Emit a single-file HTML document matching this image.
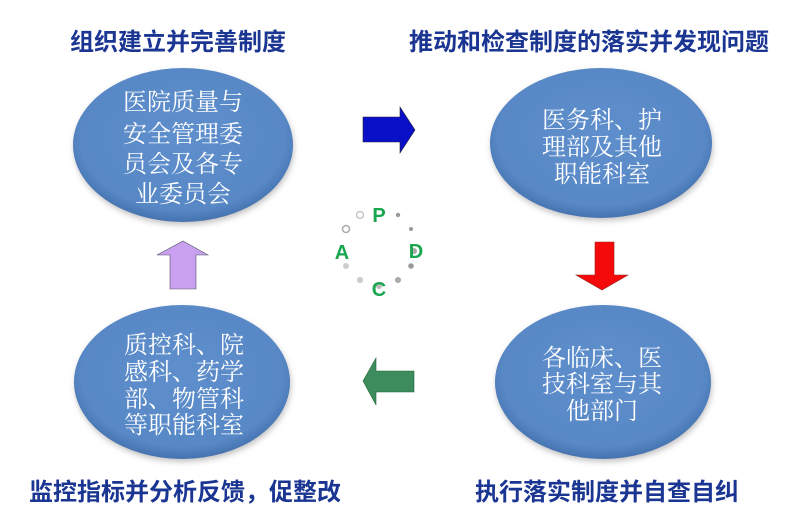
<!DOCTYPE html>
<html><head><meta charset="utf-8"><style>
html,body{margin:0;padding:0;background:#fff;}
svg{display:block}
.t{font-family:"Liberation Sans","Noto Sans CJK SC",sans-serif;font-weight:bold;fill:#1a3592;font-size:24px;}
.e{font-family:"Liberation Serif","Noto Serif CJK SC",serif;fill:#fff;font-size:24px;}
.l{font-family:"Liberation Sans",sans-serif;font-weight:bold;fill:#1aa550;font-size:20px;}
</style></head><body>
<svg width="800" height="532" viewBox="0 0 800 532" xmlns="http://www.w3.org/2000/svg">
<defs>
<radialGradient id="g" cx="50%" cy="45%" r="55%">
<stop offset="0" stop-color="#5e8fcc"/><stop offset="0.85" stop-color="#5888c6"/><stop offset="1" stop-color="#4573b0"/>
</radialGradient>
<filter id="s" x="-10%" y="-10%" width="120%" height="130%"><feDropShadow dx="1" dy="3" stdDeviation="3" flood-color="#888" flood-opacity="0.5"/></filter>
</defs>
<text class="t" x="178" y="50" text-anchor="middle">组织建立并完善制度</text>
<text class="t" x="589" y="50" text-anchor="middle">推动和检查制度的落实并发现问题</text>
<text class="t" x="185" y="500" text-anchor="middle">监控指标并分析反馈，促整改</text>
<text class="t" x="607" y="500" text-anchor="middle">执行落实制度并自查自纠</text>

<ellipse cx="183" cy="145" rx="110" ry="77" fill="url(#g)" filter="url(#s)"/>
<ellipse cx="601" cy="143" rx="111" ry="75" fill="url(#g)" filter="url(#s)"/>
<ellipse cx="182" cy="382" rx="108" ry="77" fill="url(#g)" filter="url(#s)"/>
<ellipse cx="603" cy="382" rx="108" ry="77" fill="url(#g)" filter="url(#s)"/>

<g class="e" text-anchor="middle">
<text x="183" y="110">医院质量与</text>
<text x="183" y="142">安全管理委</text>
<text x="183" y="172">员会及各专</text>
<text x="183" y="202">业委员会</text>
<text x="602" y="128">医务科、护</text>
<text x="602" y="155">理部及其他</text>
<text x="602" y="182">职能科室</text>
<text x="184" y="353">质控科、院</text>
<text x="184" y="380">感科、药学</text>
<text x="184" y="407">部、物管科</text>
<text x="184" y="433">等职能科室</text>
<text x="602" y="366">各临床、医</text>
<text x="602" y="392">技科室与其</text>
<text x="602" y="419">他部门</text>
</g>

<polygon points="363,117 400,117 400,107 415,130 400,153 400,142 363,142" fill="#0a10c8" stroke="#223" stroke-width="0.6"/>
<polygon points="595,242 614,242 614,275 628,275 602,290 576,275 595,275" fill="#f40a0a" stroke="#922" stroke-width="0.6"/>
<polygon points="414,371 376,371 376,358 363,381 376,405 376,392 414,392" fill="#3c8c5e" stroke="#263" stroke-width="0.6"/>
<polygon points="170,289 196,289 196,255 208,255 183,241 157,255 170,255" fill="#c9a0f0" stroke="#556" stroke-width="0.6"/>

<g fill="#bbb">
<circle cx="360" cy="215" r="3.5" fill="none" stroke="#bbb" stroke-width="1.2"/>
<circle cx="346" cy="229" r="3.5" fill="none" stroke="#aaa" stroke-width="1.5"/>
<circle cx="398" cy="215" r="2.2" fill="#999"/>
<circle cx="411" cy="229" r="2" fill="#999"/>
<circle cx="414" cy="251" r="3" fill="#aaa"/>
<circle cx="411" cy="266" r="2.8" fill="#999"/>
<circle cx="398" cy="280" r="3" fill="#aaa"/>
<circle cx="360" cy="280" r="3" fill="#ccc"/>
<circle cx="346" cy="266" r="3" fill="#ccc"/>
<circle cx="379" cy="286" r="3" fill="#bbb"/>
</g>
<text class="l" x="379" y="222" text-anchor="middle">P</text>
<text class="l" x="416" y="258" text-anchor="middle">D</text>
<text class="l" x="379" y="296" text-anchor="middle">C</text>
<text class="l" x="342" y="259" text-anchor="middle">A</text>
</svg>
</body></html>
